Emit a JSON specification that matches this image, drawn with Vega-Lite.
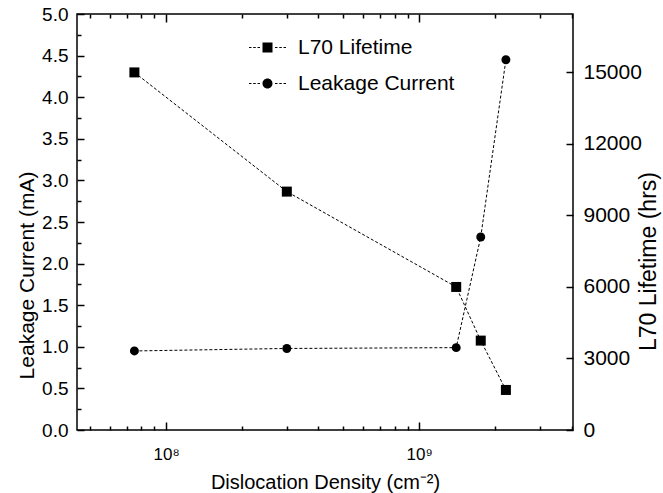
{
  "$schema": "https://vega.github.io/schema/vega-lite/v6.json",
  "width": 496,
  "height": 416,
  "autosize": "none",
  "padding": {"left": 77, "top": 14, "right": 90, "bottom": 63},
  "background": "white",
  "config": {
    "view": {"stroke": "black", "strokeWidth": 1.5},
    "font": "Liberation Sans",
    "axis": {
      "labelFont": "Liberation Sans",
      "titleFont": "Liberation Sans",
      "labelColor": "black",
      "titleColor": "black",
      "labelFontSize": 19,
      "titleFontSize": 21,
      "titleFontWeight": "normal",
      "tickColor": "black",
      "tickWidth": 1.5,
      "domain": false,
      "grid": false,
      "labelOverlap": false,
      "labelBound": false,
      "labelFlush": false
    }
  },
  "data": {
    "values": [
      {"density": 75000000, "leak": 0.95, "l70": 15000},
      {"density": 300000000, "leak": 0.98, "l70": 10000},
      {"density": 1400000000, "leak": 0.99, "l70": 6000},
      {"density": 1750000000, "leak": 2.32, "l70": 3750},
      {"density": 2200000000, "leak": 4.45, "l70": 1680}
    ]
  },
  "layer": [
    {
      "layer": [
        {
          "mark": {"type": "line", "color": "black", "strokeWidth": 1, "strokeDash": [3, 2]},
          "encoding": {
            "x": {
              "field": "density",
              "type": "quantitative",
              "scale": {"type": "log", "domain": [44500000, 4050000000], "nice": false},
              "axis": {
                "orient": "bottom",
                "values": [100000000, 1000000000],
                "labelExpr": "datum.value == 1e8 ? '10⁸' : '10⁹'",
                "labelFontSize": 17,
                "tickSize": -8,
                "labelPadding": 24,
                "title": "Dislocation Density (cm⁻²)",
                "titleFontSize": 20,
                "titleX": 248,
                "titleY": 58,
                "titleBaseline": "alphabetic",
                "titleAlign": "center"
              }
            },
            "y": {
              "field": "leak",
              "type": "quantitative",
              "scale": {"domain": [0, 5], "nice": false},
              "axis": {
                "orient": "left",
                "values": [0, 0.5, 1, 1.5, 2, 2.5, 3, 3.5, 4, 4.5, 5],
                "format": ".1f",
                "tickSize": -7,
                "labelPadding": 16,
                "title": "Leakage Current (mA)",
                "titleX": -50,
                "titleY": 261,
                "titleAngle": -90,
                "titleBaseline": "middle",
                "titleAlign": "center"
              }
            }
          }
        },
        {
          "mark": {"type": "point", "shape": "circle", "filled": true, "color": "black", "size": 80, "opacity": 1},
          "encoding": {
            "x": {
              "field": "density",
              "type": "quantitative",
              "scale": {"type": "log", "domain": [44500000, 4050000000], "nice": false},
              "axis": {
                "orient": "bottom",
                "values": [50000000, 60000000, 70000000, 80000000, 90000000, 200000000, 300000000, 400000000, 500000000, 600000000, 700000000, 800000000, 900000000, 2000000000, 3000000000, 4000000000],
                "labels": false,
                "tickSize": -4,
                "title": null
              }
            },
            "y": {
              "field": "leak",
              "type": "quantitative",
              "scale": {"domain": [0, 5], "nice": false},
              "axis": {
                "orient": "left",
                "values": [0.25, 0.75, 1.25, 1.75, 2.25, 2.75, 3.25, 3.75, 4.25, 4.75],
                "labels": false,
                "tickSize": -4,
                "title": null
              }
            }
          }
        },
        {
          "mark": {"type": "point", "filled": true, "color": "black", "opacity": 0},
          "encoding": {
            "x": {"field": "density", "type": "quantitative", "scale": {"type": "log", "domain": [44500000, 4050000000], "nice": false}, "axis": null},
            "y": {"field": "leak", "type": "quantitative", "scale": {"domain": [0, 5], "nice": false}, "axis": null},
            "shape": {
              "datum": "Leakage Current",
              "type": "nominal",
              "scale": {
                "domain": ["L70 Lifetime", "Leakage Current"],
                "range": [
                  "M-1,-1H1V1H-1ZM-3.7,-0.1H-3.2V0.1H-3.7ZM-2.85,-0.1H-2.35V0.1H-2.85ZM-2,-0.1H-1.5V0.1H-2ZM1.5,-0.1H2V0.1H1.5ZM2.35,-0.1H2.85V0.1H2.35ZM3.2,-0.1H3.7V0.1H3.2Z",
                  "M1,0A1,1,0,1,1,-1,0A1,1,0,1,1,1,0ZM-3.7,-0.1H-3.2V0.1H-3.7ZM-2.85,-0.1H-2.35V0.1H-2.85ZM-2,-0.1H-1.5V0.1H-2ZM1.5,-0.1H2V0.1H1.5ZM2.35,-0.1H2.85V0.1H2.35ZM3.2,-0.1H3.7V0.1H3.2Z"
                ]
              },
              "legend": {
                "orient": "none",
                "legendX": 180,
                "legendY": 23,
                "title": null,
                "labelFontSize": 21,
                "labelFont": "Liberation Sans",
                "labelColor": "black",
                "symbolSize": 100,
                "symbolFillColor": "black",
                "symbolStrokeWidth": 0,
                "symbolOpacity": 1,
                "labelOffset": 20,
                "rowPadding": 14,
                "padding": 0
              }
            }
          }
        }
      ],
      "resolve": {"axis": {"x": "independent", "y": "independent"}}
    },
    {
      "layer": [
        {
          "mark": {"type": "line", "color": "black", "strokeWidth": 1, "strokeDash": [3, 2]},
          "encoding": {
            "x": {
              "field": "density",
              "type": "quantitative",
              "scale": {"type": "log", "domain": [44500000, 4050000000], "nice": false},
              "axis": {
                "orient": "top",
                "values": [100000000, 1000000000],
                "labels": false,
                "tickSize": -8,
                "title": null
              }
            },
            "y": {
              "field": "l70",
              "type": "quantitative",
              "scale": {"domain": [0, 17450], "nice": false},
              "axis": {
                "orient": "right",
                "values": [0, 3000, 6000, 9000, 12000, 15000],
                "format": "d",
                "labelFontSize": 21,
                "tickSize": -7,
                "labelPadding": 17,
                "title": "L70 Lifetime (hrs)",
                "titleFontSize": 23,
                "titleX": 75,
                "titleY": 247,
                "titleAngle": -90,
                "titleBaseline": "middle",
                "titleAlign": "center"
              }
            }
          }
        },
        {
          "mark": {"type": "point", "shape": "square", "filled": true, "color": "black", "size": 100, "opacity": 1},
          "encoding": {
            "x": {
              "field": "density",
              "type": "quantitative",
              "scale": {"type": "log", "domain": [44500000, 4050000000], "nice": false},
              "axis": {
                "orient": "top",
                "values": [50000000, 60000000, 70000000, 80000000, 90000000, 200000000, 300000000, 400000000, 500000000, 600000000, 700000000, 800000000, 900000000, 2000000000, 3000000000, 4000000000],
                "labels": false,
                "tickSize": -4,
                "title": null
              }
            },
            "y": {
              "field": "l70",
              "type": "quantitative",
              "scale": {"domain": [0, 17450], "nice": false},
              "axis": null
            }
          }
        },
        {
          "mark": {"type": "point", "filled": true, "color": "black", "opacity": 0},
          "encoding": {
            "x": {"field": "density", "type": "quantitative", "scale": {"type": "log", "domain": [44500000, 4050000000], "nice": false}, "axis": null},
            "y": {"field": "l70", "type": "quantitative", "scale": {"domain": [0, 17450], "nice": false}, "axis": null},
            "shape": {"datum": "L70 Lifetime", "type": "nominal"}
          }
        }
      ],
      "resolve": {"axis": {"x": "independent", "y": "independent"}}
    }
  ],
  "resolve": {
    "scale": {"y": "independent"},
    "axis": {"x": "independent", "y": "independent"}
  }
}
